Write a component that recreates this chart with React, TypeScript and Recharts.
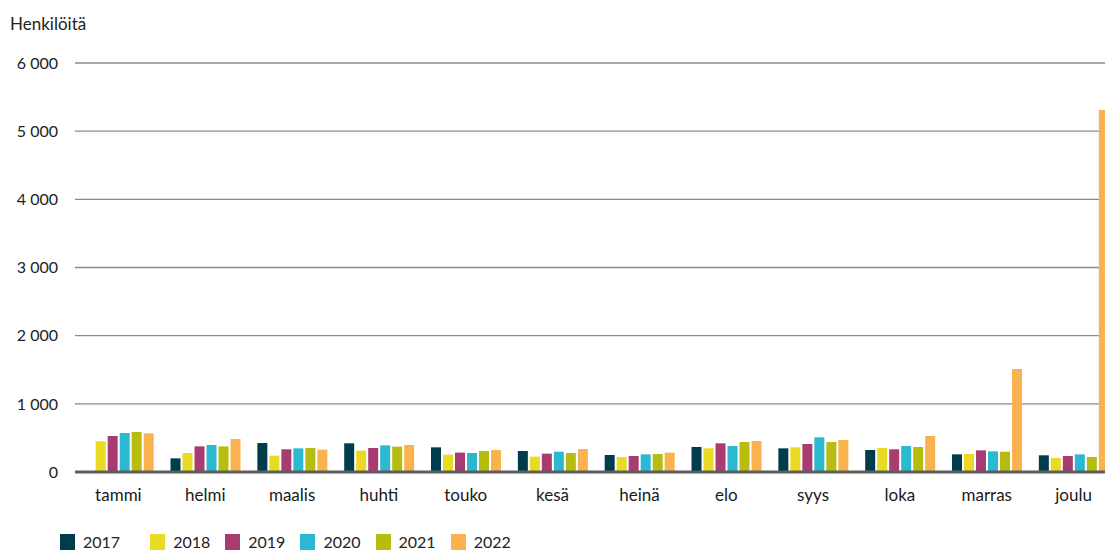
import React from "react";
import {
  BarChart,
  Bar,
  XAxis,
  YAxis,
  CartesianGrid,
} from "recharts";

const months = ["tammi", "helmi", "maalis", "huhti", "touko", "kesä", "heinä", "elo", "syys", "loka", "marras", "joulu"];
const years = ["2017", "2018", "2019", "2020", "2021", "2022"];
const colors = ["#003d4c", "#e9da24", "#a93b73", "#2bb9d2", "#b6bd10", "#f9b24d"];

const v2017 = [null, 200, 425, 421, 362, 308, 249, 367, 347, 323, 259, 245];
const v2018 = [450, 279, 240, 313, 254, 225, 220, 347, 362, 352, 264, 205];
const v2019 = [528, 376, 333, 352, 284, 269, 235, 421, 411, 333, 318, 235];
const v2020 = [572, 396, 347, 391, 279, 298, 259, 381, 509, 381, 303, 259];
const v2021 = [587, 376, 352, 372, 308, 279, 264, 440, 440, 367, 298, 220];
const v2022 = [567, 484, 328, 396, 323, 337, 284, 455, 469, 528, 1510, 5310];

const yTicks = [0, 1000, 2000, 3000, 4000, 5000, 6000];

const series = [v2017, v2018, v2019, v2020, v2021, v2022];
const data = months.map((m, i) => {
  const row: Record<string, string | number | null> = { month: m };
  years.forEach((y, k) => {
    row[y] = series[k][i];
  });
  return row;
});

const fmt = (v: number) => String(v).replace(/\B(?=(\d{3})+(?!\d))/g, " ");

function YearLegend() {
  return (
    <div
      style={{
        position: "absolute",
        left: 60,
        top: 533,
        display: "flex",
        alignItems: "center",
        fontFamily: "Lato",
        fontSize: 16,
        lineHeight: "18px",
        color: "#222",
      }}
    >
      {years.map((y, k) => (
        <div key={y} style={{ display: "flex", alignItems: "center", marginRight: k === 0 ? 30 : 15 }}>
          <span style={{ display: "inline-block", width: 15, height: 16, background: colors[k], marginRight: 8 }} />
          {y}
        </div>
      ))}
    </div>
  );
}

export default function App() {
  return (
    <div style={{ position: "fixed", left: 0, top: 0, width: 1105, height: 551, overflow: "hidden", background: "#fff" }}>
      <div style={{ position: "absolute", left: 10, top: 13, fontFamily: "Lato", fontSize: 17, color: "#222" }}>
        Henkilöitä
      </div>
      <BarChart
        width={1117}
        height={551}
        data={data}
        margin={{ top: 63, right: 0, left: 0, bottom: 35 }}
        barGap={2}
        barCategoryGap="10%"
      >
        <CartesianGrid horizontal vertical={false} stroke="#8a8a8a" strokeWidth={1.3} />
        <XAxis
          dataKey="month"
          height={44}
          tickLine={false}
          axisLine={{ stroke: "#5e5e5e", strokeWidth: 3 }}
          tickMargin={11}
          tick={{ fontFamily: "Lato", fontSize: 17, fill: "#1a1a1a" }}
        />
        <YAxis
          width={75}
          domain={[0, 6000]}
          ticks={yTicks}
          tickFormatter={fmt}
          tickLine={false}
          axisLine={false}
          tickMargin={11}
          tick={{ fontFamily: "Lato", fontSize: 16, fill: "#222" }}
        />
        {years.map((y, k) => (
          <Bar key={y} dataKey={y} fill={colors[k]} isAnimationActive={false} />
        ))}
      </BarChart>
      <YearLegend />
    </div>
  );
}
